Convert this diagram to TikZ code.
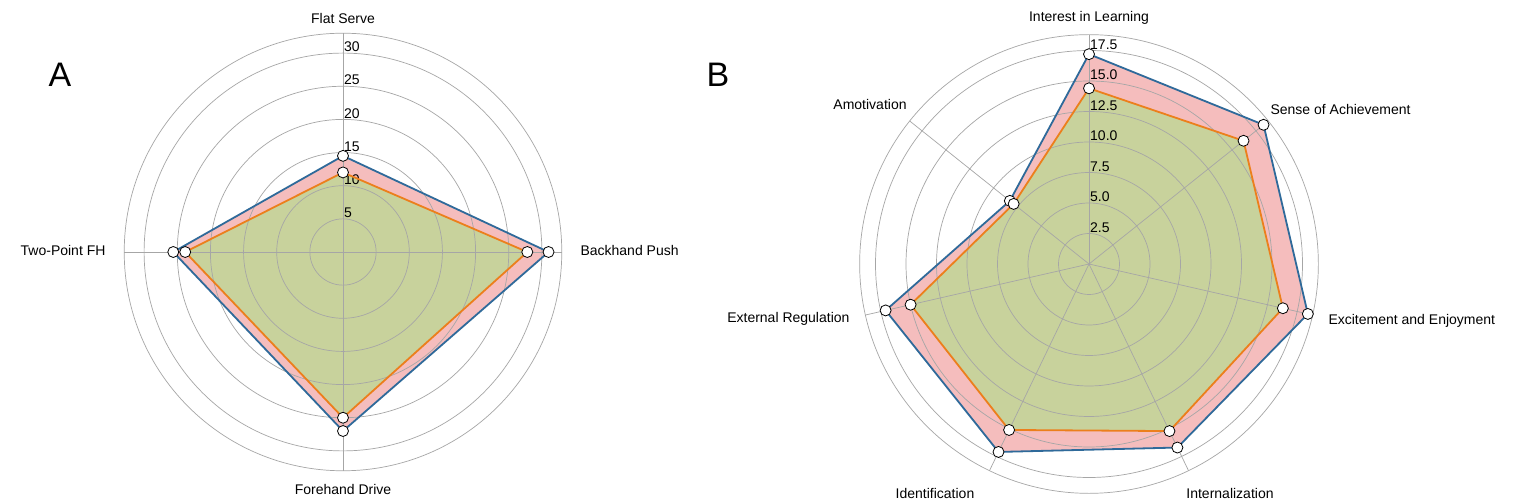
\documentclass[tikz,border=0pt]{standalone}
\usepackage{fontspec}
\setmainfont{Liberation Sans}
\begin{document}
\begin{tikzpicture}[x=1pt,y=1pt,
  grid/.style={draw=gray!70,line width=0.7pt},
  blueline/.style={draw=blue!45!black!70!cyan,line width=1.8pt,line join=round},
  orangeline/.style={draw=orange!90!red,line width=1.8pt,line join=round},
  mk/.style={circle,draw=black,fill=white,line width=0.8pt,inner sep=0pt,minimum size=11pt},
  lab/.style={font=\fontsize{14}{16}\selectfont},
  tick/.style={font=\fontsize{14}{16}\selectfont,inner sep=1pt,anchor=south west}]
\definecolor{bl}{HTML}{2F6A9A}
\definecolor{og}{HTML}{EC7F1C}
\definecolor{pk}{HTML}{F5BDBD}
\definecolor{gr}{HTML}{C8D29C}
\useasboundingbox (0,0) rectangle (1535,503);
\fill[white] (0,0) rectangle (1535,503);
% ---------- Panel A ----------
\begin{scope}[shift={(343,251)}]
\coordinate (A0) at (0,0);
\def\s{6.63}
\coordinate (ab1) at (90:14.5*\s);  \coordinate (ab2) at (0:31*\s);
\coordinate (ab3) at (-90:27*\s);   \coordinate (ab4) at (180:25.6*\s);
\coordinate (ao1) at (90:12*\s);    \coordinate (ao2) at (0:27.8*\s);
\coordinate (ao3) at (-90:25*\s);   \coordinate (ao4) at (180:23.8*\s);
\fill[pk] (ab1)--(ab2)--(ab3)--(ab4)--cycle;
\fill[gr] (ao1)--(ao2)--(ao3)--(ao4)--cycle;
\foreach \r in {5,10,...,30,33} \draw[grid] (A0) circle ({\r*\s});
\foreach \a in {0,90,180,270} \draw[grid] (A0) -- (\a:33*\s);
\foreach \r in {5,10,...,30} \node[tick] at (0,{\r*\s}) {\r};
\draw[bl,line width=1.8pt,line join=round] (ab1)--(ab2)--(ab3)--(ab4)--cycle;
\draw[og,line width=1.8pt,line join=round] (ao1)--(ao2)--(ao3)--(ao4)--cycle;
\foreach \p in {ab1,ab2,ab3,ab4,ao1,ao2,ao3,ao4} \node[mk] at (\p) {};
\node[lab] (la1) at (0,233) {Flat Serve};
\node[lab,anchor=west] (la2) at (234,1) {Backhand Push};
\node[lab,anchor=east] (la4) at (-234,1) {Two-Point FH};
\node[lab] (la3) at (0,-237) {Forehand Drive};
\end{scope}
\node[font=\fontsize{34}{36}\selectfont] (LA) at (60,428) {A};
% ---------- Panel B ----------
\begin{scope}[shift={(1089,239)}]
\coordinate (B0) at (0,0);
\def\s{12.2}
\def\bv{{17.2,18.3,18.4,16.7,17.1,17.1,8.3}}
\def\ov{{14.4,16.2,16.3,15.2,15.1,15.0,7.9}}
\foreach \i in {0,...,6}{
  \pgfmathsetmacro\ang{90-\i*360/7}
  \pgfmathsetmacro\vb{\bv[\i]}
  \pgfmathsetmacro\vo{\ov[\i]}
  \coordinate (bb\i) at (\ang:\vb*\s);
  \coordinate (bo\i) at (\ang:\vo*\s);
}
\fill[pk] (bb0)--(bb1)--(bb2)--(bb3)--(bb4)--(bb5)--(bb6)--cycle;
\fill[gr] (bo0)--(bo1)--(bo2)--(bo3)--(bo4)--(bo5)--(bo6)--cycle;
\foreach \r in {2.5,5,7.5,10,12.5,15,17.5,18.8} \draw[grid] (B0) circle ({\r*\s});
\foreach \i in {0,...,6} \draw[grid] (B0) -- ({90-\i*360/7}:18.8*\s);
\foreach \r/\t in {2.5/2.5,5/5.0,7.5/7.5,10/10.0,12.5/12.5,15/15.0,17.5/17.5} \node[tick] at (0,{\r*\s}) {\t};
\draw[bl,line width=1.8pt,line join=round] (bb0)--(bb1)--(bb2)--(bb3)--(bb4)--(bb5)--(bb6)--cycle;
\draw[og,line width=1.8pt,line join=round] (bo0)--(bo1)--(bo2)--(bo3)--(bo4)--(bo5)--(bo6)--cycle;
\foreach \i in {0,...,6} {\node[mk] at (bb\i) {}; \node[mk] at (bo\i) {};}
\node[lab] (lb0) at (0,246) {Interest in Learning};
\node[lab,anchor=west] (lb1) at (178,154) {Sense of Achievement};
\node[lab,anchor=west] (lb2) at (236,-57) {Excitement and Enjoyment};
\node[lab] (lb3) at (141,-229) {Internalization};
\node[lab] (lb4) at (-154,-229) {Identification};
\node[lab,anchor=east] (lb5) at (-236,-55) {External Regulation};
\node[lab] (lb6) at (-219,159) {Amotivation};
\end{scope}
\node[font=\fontsize{34}{36}\selectfont] (LB) at (718,428) {B};
\end{tikzpicture}
\end{document}
